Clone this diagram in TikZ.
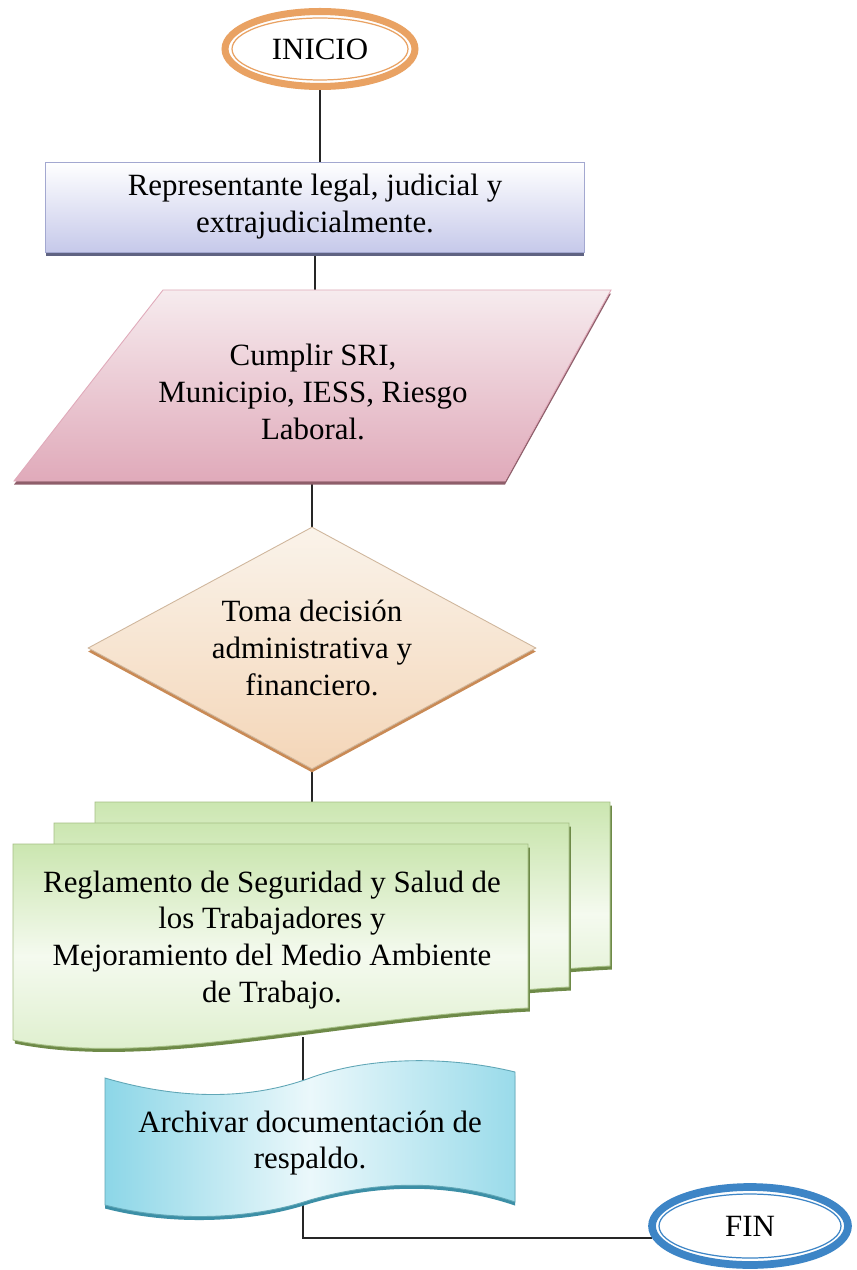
\documentclass[tikz,border=0pt]{standalone}
\usepackage{fontspec}
\setmainfont{Liberation Serif}
\usetikzlibrary{shapes.geometric,calc,backgrounds}

\definecolor{ringorange}{HTML}{E9A263}
\definecolor{ringblue}{HTML}{3D85C6}
\definecolor{repline}{HTML}{A3A8D0}
\definecolor{replav}{HTML}{C6C9EA}
\definecolor{repshadow}{HTML}{5F6382}
\definecolor{parapink}{HTML}{E0AABA}
\definecolor{paralight}{HTML}{F6EBEE}
\definecolor{parashadow}{HTML}{8E5E6A}
\definecolor{decpeach}{HTML}{F4D6B8}
\definecolor{declight}{HTML}{FAF3EA}
\definecolor{decshadow}{HTML}{C98A55}
\definecolor{docgreen}{HTML}{CBE6B0}
\definecolor{docline}{HTML}{A5BF85}
\definecolor{docshadow}{HTML}{6E8A48}
\definecolor{tapeblue}{HTML}{78CFE3}
\definecolor{tapeshadow}{HTML}{3C8FA6}

\tikzset{
  txt/.style={font=\fontsize{17.6}{21}\selectfont, align=center},
  term/.style={ellipse, txt, inner sep=0pt, fill=white, line width=4pt},
  sombra/.style={preaction={fill=#1, transform canvas={yshift=-2pt}}},
  procbox/.style={rectangle, txt, draw=repline, line width=0.5pt,
    top color=white, bottom color=replav,
    minimum width=10.78cm, minimum height=1.8cm, sombra=repshadow},
  paraleft/.style={draw=parapink, line width=0.5pt,
    top color=paralight, bottom color=parapink, sombra=parashadow},
  decision/.style={diamond, txt, aspect=1.85, inner sep=0pt,
    draw=decpeach!85!black, line width=0.5pt,
    top color=declight, bottom color=decpeach, sombra=decshadow,
    minimum width=8.96cm, minimum height=4.84cm},
  docpage/.style={draw=docline, line width=0.5pt,
    top color=docgreen, bottom color=docgreen!70!white, middle color=docgreen!20!white,
    preaction={fill=docshadow, transform canvas={shift={(1pt,-2pt)}}}},
  tapefill/.style={draw=tapeblue!80!black, line width=0.5pt,
    left color=tapeblue!85!white, right color=tapeblue!75!white, middle color=tapeblue!15!white,
    sombra=tapeshadow},
  link/.style={draw=black!85, line width=1pt},
}

\begin{document}
\begin{tikzpicture}[x=0.02cm, y=-0.02cm]
  \useasboundingbox (0,0) rectangle (857,1270);

  % Inicio
  \node[term, draw=ringorange, minimum width=3.8cm, minimum height=1.5cm] (inicio) at (320,49) {INICIO};
  \draw[ringorange, line width=0.7pt] (inicio.center) ellipse [x radius=1.76cm, y radius=0.62cm];

  % Representante
  \node[procbox] (rep) at (315,207) {Representante legal, judicial y\\extrajudicialmente.};

  % Cumplir (paralelogramo)
  \path[paraleft] (163,290) -- (611,290) -- (505,481) -- (14,481) -- cycle;
  \coordinate (ptop) at (315,290);
  \coordinate (pbot) at (312,481);
  \node[txt] (cumplir) at (313,392) {Cumplir SRI,\\Municipio, IESS, Riesgo\\Laboral.};

  % Toma de decision
  \node[decision] (toma) at (312,648) {Toma decisión\\administrativa y\\financiero.};

  % Reglamento (documentos multiples)
  \foreach \dx/\dy in {82/-42, 41/-21, 0/0} {
    \path[docpage, shift={(\dx,\dy)}] (13,844) -- (528,844) -- (528,1008)
      .. controls (330,1018) and (150,1068) .. (13,1040) -- cycle;
  }
  \coordinate (dtop) at (312,802);
  \coordinate (dbot) at (303,1037);
  \node[txt] (regl) at (272,940) {Reglamento de Seguridad y Salud de\\los Trabajadores y\\Mejoramiento del Medio Ambiente\\de Trabajo.};

  % Archivar (cinta)
  \path[tapefill] (105,1078) .. controls (180,1100) and (250,1100) .. (310,1078)
    .. controls (370,1056) and (450,1056) .. (515,1072) -- (515,1202)
    .. controls (450,1180) and (380,1180) .. (310,1200)
    .. controls (250,1220) and (170,1222) .. (105,1205) -- cycle;
  \coordinate (ttop) at (303,1080);
  \coordinate (tbot) at (303,1201);
  \node[txt] (archivar) at (310,1143) {Archivar documentación de\\respaldo.};

  % Fin
  \node[term, draw=ringblue, line width=4.4pt, minimum width=3.92cm, minimum height=1.56cm] (fin) at (750,1226) {FIN};
  \draw[ringblue, line width=0.7pt] (fin.center) ellipse [x radius=1.82cm, y radius=0.64cm];

  % Conectores
  \begin{scope}[on background layer]
    \fill[white] (0,0) rectangle (857,1270);
    \draw[link] (inicio.south) -- (inicio.south |- rep.north);
    \draw[link] (rep.south) -- (rep.south |- ptop);
    \draw[link] (toma.north) -- (toma.north |- pbot);
    \draw[link] (toma.south) -- (toma.south |- dtop);
    \draw[link] (dbot) -- (ttop);
    \draw[link] (tbot) |- (fin.187);
  \end{scope}
\end{tikzpicture}
\end{document}
